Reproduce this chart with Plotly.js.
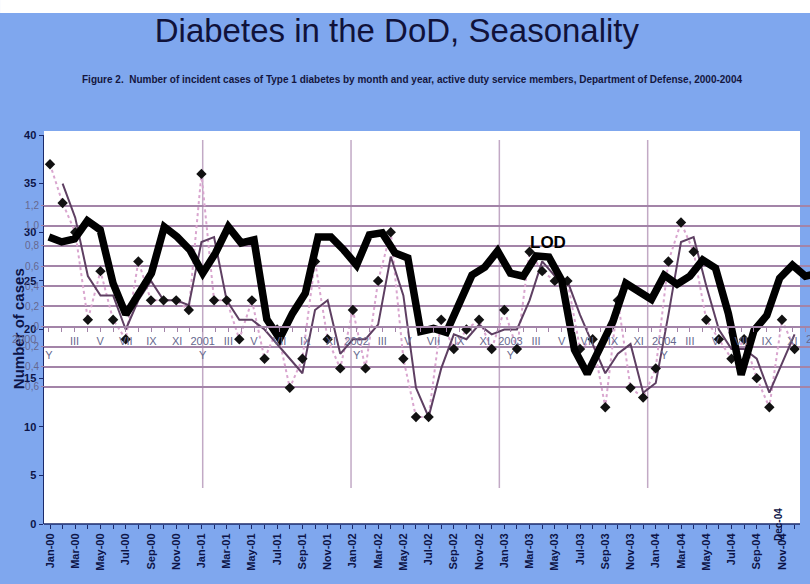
<!DOCTYPE html>
<html><head><meta charset="utf-8">
<script src="https://cdn.plot.ly/plotly-3.0.1.min.js"></script>
<style>html,body{margin:0;padding:0;background:#7fa7ee;} #chart{width:810px;height:584px;}</style>
</head><body><div id="chart"></div>
<script>
// Months of the main chart (Jan 2000 – Dec 2004)
const months = ['Jan-00','Feb-00','Mar-00','Apr-00','May-00','Jun-00','Jul-00','Aug-00','Sep-00','Oct-00','Nov-00','Dec-00',
  'Jan-01','Feb-01','Mar-01','Apr-01','May-01','Jun-01','Jul-01','Aug-01','Sep-01','Oct-01','Nov-01','Dec-01',
  'Jan-02','Feb-02','Mar-02','Apr-02','May-02','Jun-02','Jul-02','Aug-02','Sep-02','Oct-02','Nov-02','Dec-02',
  'Jan-03','Feb-03','Mar-03','Apr-03','May-03','Jun-03','Jul-03','Aug-03','Sep-03','Oct-03','Nov-03','Dec-03',
  'Jan-04','Feb-04','Mar-04','Apr-04','May-04','Jun-04','Jul-04','Aug-04','Sep-04','Oct-04','Nov-04','Dec-04'];

// Incident cases of Type 1 diabetes per month
const cases = [37,33,30,21,26,21,19,27,23,23,23,22,
  36,23,23,19,23,17,20,14,17,27,19,16,
  22,16,25,30,17,11,11,21,18,20,21,18,
  22,18,28,26,25,25,18,19,12,23,14,13,
  16,27,31,28,21,19,17,19,15,12,21,18];

// 2-period moving average line
const movingAvg = [null,35,31.5,25.5,23.5,23.5,20,23,25,23,23,22.5,
  29,29.5,23,21,21,20,18.5,17,15.5,22,23,17.5,
  19,19,20.5,27.5,23.5,14,11,16,19.5,19,20.5,19.5,
  20,20,23,27,25.5,25,21.5,18.5,15.5,17.5,18.5,13.5,
  14.5,21.5,29,29.5,24.5,20,18,18,17,13.5,16.5,19.5];

// Overlaid seasonal curve (LOD), one value per month of the overlay axis
const lod = [0.89,0.84,0.87,1.05,0.96,0.43,0.12,0.32,0.53,0.99,0.89,0.76,
  0.53,0.73,0.99,0.83,0.86,0.07,-0.12,0.13,0.33,0.89,0.89,0.76,
  0.61,0.91,0.93,0.73,0.68,-0.05,-0.02,-0.06,0.23,0.51,0.59,0.75,
  0.53,0.50,0.70,0.69,0.46,-0.23,-0.47,-0.20,0.05,0.43,0.35,0.27,
  0.51,0.42,0.50,0.66,0.58,0.13,-0.48,-0.04,0.11,0.48,0.61,0.50,
  0.53];

// Overlay axis labels
const overlayYears = ['2000','2001','2002','2003','2004'];
const romanMonths = ['','III','V','VII','IX','XI'];
const overlayYTicks = [-0.6,-0.4,-0.2,0,0.2,0.4,0.6,0.8,1.0,1.2];
const overlayYText = ['-0,6','-0,4','-0,2','0','0,2','0,4','0,6','0,8','1,0','1,2'];
const mainYTicks = [0,5,10,15,20,25,30,35,40];
const yearLines = [2001,2002,2003,2004];

const monthIdx = months.map((m,i)=>i);
const monthText = months.map((m,i)=> (i%2===0 && i<59) ? m : '');
const lodIdx = lod.map((v,i)=>i);
const ovTickVals = [], ovTickText = [];
for (let i=0;i<60;i++){
  ovTickVals.push(i);
  if (i%12===0) ovTickText.push(i===0 ? ' <br>Y' : overlayYears[i/12] + '<br>Y');
  else if (i%2===0) ovTickText.push(romanMonths[(i%12)/2]);
  else ovTickText.push('');
}

const navy = '#0d1447';
const grid = '#a384a8';
const ovText = '#66688e';
const FONT = 'Liberation Sans, Arial, sans-serif';

const traces = [
  {x: monthIdx, y: cases, type:'scatter', mode:'lines', line:{color:'#d9a6cf', width:2, dash:'dot'}, xaxis:'x', yaxis:'y', hoverinfo:'skip'},
  {x: monthIdx, y: movingAvg, type:'scatter', mode:'lines', line:{color:'#5e3f62', width:2}, xaxis:'x', yaxis:'y', connectgaps:false},
  {x: monthIdx, y: cases, type:'scatter', mode:'markers', marker:{symbol:'diamond', size:8, color:'#111111'}, xaxis:'x', yaxis:'y'},
  {x: lodIdx, y: lod, type:'scatter', mode:'lines', line:{color:'#000000', width:7.5}, xaxis:'x2', yaxis:'y2', cliponaxis:true},
  {x: [], y: [], type:'scatter', mode:'lines', xaxis:'x3', yaxis:'y', showlegend:false}
];

const shapes = [
  {type:'rect', xref:'paper', yref:'paper', x0:-0.0574, x1:1.0, y0:1.3136, y1:1.35, fillcolor:'#ffffff', line:{width:0}, layer:'below'},
  {type:'rect', xref:'paper', yref:'paper', x0:0, x1:0.98695, y0:0, y1:1.0103, fillcolor:'#ffffff', line:{width:0}, layer:'below'}
];
yearLines.forEach(yr => shapes.push({type:'line', xref:'x3', yref:'paper', x0:yr, x1:yr, y0:0.0925, y1:0.9871, line:{color:'#c2a9c5', width:1.5}, layer:'below'}));
shapes.push({type:'line', xref:'paper', yref:'paper', x0:0, x1:0.98695, y0:0, y1:0, line:{color:'#1b2a6b', width:1.5}, layer:'above'});

const layout = {
  width:810, height:584,
  margin:{l:44, r:0, t:135, b:60, pad:0},
  paper_bgcolor:'#7fa7ee',
  plot_bgcolor:'rgba(0,0,0,0)',
  showlegend:false,
  font:{family:FONT},
  title:{text:'Diabetes in the DoD, Seasonality', font:{family:FONT, size:33, color:'#10123a'}, x:0.49, xanchor:'center', y:0.948, yanchor:'middle'},
  xaxis:{domain:[0,1], range:[-0.4754, 60.222], tickmode:'array', tickvals:monthIdx, ticktext:monthText, tickangle:-90,
    tickfont:{family:FONT, size:11, color:navy, weight:'bold'}, ticks:'outside', ticklen:4, tickcolor:'#1b2a6b',
    showline:false, showgrid:false, zeroline:false},
  yaxis:{domain:[0,1], range:[0,40], tickmode:'array', tickvals:mainYTicks, ticks:'outside', ticklen:4, tickcolor:'#1b2a6b',
    showline:true, linecolor:'#1b2a6b', linewidth:1.5, tickfont:{family:FONT, size:11, color:navy, weight:'bold'},
    showgrid:false, zeroline:false},
  xaxis2:{overlaying:'x', range:[-0.382, 59.37], anchor:'free', position:0.5077, tickmode:'array', tickvals:ovTickVals, ticktext:ovTickText,
    ticks:'outside', ticklen:4, tickcolor:grid, tickangle:0, tickfont:{family:FONT, size:11, color:ovText},
    showline:true, linecolor:grid, linewidth:2, showgrid:false, zeroline:false},
  yaxis2:{overlaying:'y', anchor:'free', position:0, side:'left', range:[-1.9619, 1.9023], tickmode:'array', tickvals:overlayYTicks, ticktext:overlayYText,
    ticks:'outside', ticklen:3, tickcolor:grid, tickfont:{family:FONT, size:10, color:ovText},
    showgrid:true, gridcolor:grid, gridwidth:2, zeroline:false, showline:false},
  xaxis3:{overlaying:'x', range:[1999.9301, 2005.0943], visible:false},
  shapes: shapes,
  annotations:[
    {xref:'paper', yref:'paper', x:0.4804, y:1.1414, text:'Figure 2.  Number of incident cases of Type 1 diabetes by month and year, active duty service members, Department of Defense, 2000-2004',
      showarrow:false, font:{family:FONT, size:10, color:'#14163e', weight:'bold'}, xanchor:'center', yanchor:'middle'},
    {xref:'paper', yref:'paper', x:-0.0339, y:0.501, text:'Number of cases', textangle:-90, showarrow:false,
      font:{family:FONT, size:15, color:navy, weight:'bold'}, xanchor:'center', yanchor:'middle'},
    {xref:'x2', yref:'y2', x:38.9, y:0.83, text:'LOD', showarrow:false, font:{family:FONT, size:17, color:'#000000', weight:'bold'}, xanchor:'center', yanchor:'middle'},
    {xref:'paper', yref:'paper', x:-0.0261, y:0.4756, text:'2000', showarrow:false, font:{family:FONT, size:11, color:ovText}, xanchor:'center', yanchor:'middle'},
    {xref:'paper', yref:'paper', x:1.0104, y:0.4756, text:'2005', showarrow:false, font:{family:FONT, size:11, color:ovText}, xanchor:'center', yanchor:'middle'},
    {xref:'paper', yref:'paper', x:0.9582, y:0.0, text:'Dec-04', textangle:-90, showarrow:false, font:{family:FONT, size:10, color:navy, weight:'bold'}, xanchor:'center', yanchor:'middle'}
  ]
};

Plotly.newPlot('chart', traces, layout, {staticPlot:true, displayModeBar:false});
</script>
</body></html>
